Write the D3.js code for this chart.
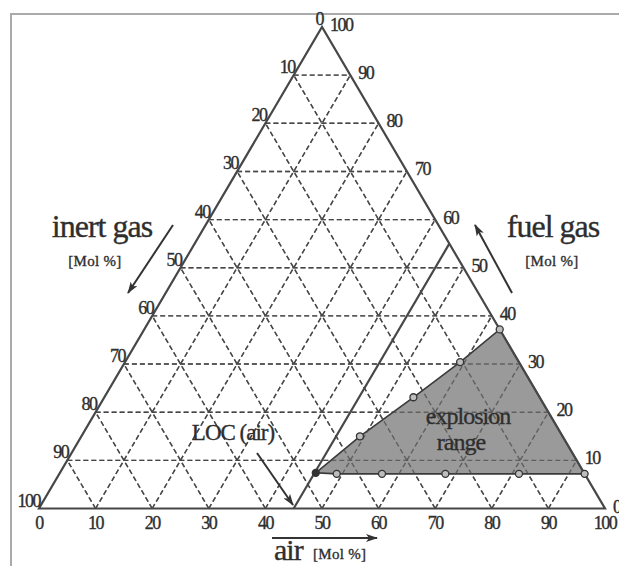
<!DOCTYPE html>
<html lang="en">
<head>
<meta charset="UTF-8">
<title>explosion triangle</title>
<script src="https://d3js.org/d3.v7.min.js"></script>
<style>
  body { margin: 0; background: #fff; }
  text { font-family: "Liberation Serif", "DejaVu Serif", serif; fill: #2e2e2e; stroke: #2e2e2e; stroke-width: 0.35px; }
  .tick { font-size: 18px; letter-spacing: -1.5px; }
</style>
</head>
<body>
<script>
// tick labels on each side (mol %)
const airTicks = [0, 10, 20, 30, 40, 50, 60, 70, 80, 90, 100];
const inertTicks = [0, 10, 20, 30, 40, 50, 60, 70, 80, 90, 100];
const fuelTicks = [0, 10, 20, 30, 40, 50, 60, 70, 80, 90, 100];
// dashed grid levels
const gridLevels = [10, 20, 30, 40, 50, 60, 70, 80, 90];

// limiting oxygen concentration line (air %)
const locAir = 45;

// explosion range boundary, upper edge (air %, fuel %)
const upperAir = [45.2, 49.2, 54.6, 59.2, 62.8];
const upperFuel = [7.4, 15.0, 23.1, 30.4, 37.2];
// lower edge (lower explosion limit)
const lowerAir = [49.0, 57.0, 68.2, 81.2, 92.8];
const lowerFuel = [7.2, 7.2, 7.2, 7.2, 7.2];

const w = 619, h = 566;
const svg = d3.select("body").append("svg").attr("width", w).attr("height", h);

// frame
svg.append("rect")
  .attr("x", 11).attr("y", 14).attr("width", 700).attr("height", 700)
  .attr("fill", "none").attr("stroke", "#aaa").attr("stroke-width", 2);

// x runs along the air axis, y along fuel
const xScale = d3.scaleLinear().domain([0, 100]).range([39, 605]);
const yScale = d3.scaleLinear().domain([0, 100]).range([508.5, 27]);

function pt(air, fuel) {
  return [xScale(air + fuel / 2), yScale(fuel)];
}

const line = d3.line();
const lineCol = "#474747";

function drawGrid(opacity) {
  const g = svg.append("g")
    .attr("fill", "none").attr("stroke", "#474747")
    .attr("stroke-width", 1.4).attr("stroke-dasharray", "5,3")
    .attr("stroke-opacity", opacity);
  gridLevels.forEach(function (v) {
    // constant fuel
    g.append("path").attr("d", line([pt(0, v), pt(100 - v, v)]));
    // constant air
    g.append("path").attr("d", line([pt(v, 0), pt(v, 100 - v)]));
    // constant inert
    g.append("path").attr("d", line([pt(100 - v, 0), pt(0, 100 - v)]));
  });
}
drawGrid(1);

// explosion range polygon
const poly = [];
upperAir.forEach((a, i) => poly.push(pt(a, upperFuel[i])));
for (let i = lowerAir.length - 1; i >= 0; i--) poly.push(pt(lowerAir[i], lowerFuel[i]));
svg.append("path")
  .attr("d", line(poly) + "Z")
  .attr("fill", "#9a9a9a")
  .attr("stroke", "#3a3a3a").attr("stroke-width", 1.6);

// grid shows through the fill
drawGrid(0.7);

// triangle
svg.append("path")
  .attr("d", line([pt(0, 0), pt(100, 0), pt(0, 100)]) + "Z")
  .attr("fill", "none").attr("stroke", lineCol).attr("stroke-width", 2.2);

// LOC line
svg.append("path")
  .attr("d", line([pt(locAir, 0), pt(locAir, 100 - locAir)]))
  .attr("fill", "none").attr("stroke", lineCol).attr("stroke-width", 2.2);

// measured points
const pts = upperAir.map((a, i) => ({ air: a, fuel: upperFuel[i] }))
  .concat(lowerAir.map((a, i) => ({ air: a, fuel: lowerFuel[i] })));
svg.selectAll("circle.pt")
  .data(pts)
  .enter()
  .append("circle")
  .attr("class", "pt")
  .attr("cx", d => pt(d.air, d.fuel)[0])
  .attr("cy", d => pt(d.air, d.fuel)[1])
  .attr("r", 3.5)
  .attr("fill", (d, i) => i === 0 ? "#333" : "#bdbdbd")
  .attr("stroke", "#333").attr("stroke-width", 1.3);

// tick labels
svg.selectAll("text.air")
  .data(airTicks).enter().append("text")
  .attr("class", "tick").attr("text-anchor", "middle")
  .attr("x", d => pt(d, 0)[0]).attr("y", 529)
  .text(d => d);

svg.selectAll("text.inert")
  .data(inertTicks).enter().append("text")
  .attr("class", "tick").attr("text-anchor", "end")
  .attr("x", d => pt(0, 100 - d)[0] + 1)
  .attr("y", d => pt(0, 100 - d)[1] - 2)
  .text(d => d);

svg.selectAll("text.fuel")
  .data(fuelTicks).enter().append("text")
  .attr("class", "tick").attr("text-anchor", "start")
  .attr("x", d => pt(100 - d, d)[0] + 8)
  .attr("y", d => pt(100 - d, d)[1] + 4)
  .text(d => d);

// arrows
const defs = svg.append("defs");
defs.append("marker")
  .attr("id", "head").attr("viewBox", "0 0 12 8")
  .attr("refX", 11).attr("refY", 4)
  .attr("markerWidth", 13).attr("markerHeight", 8)
  .attr("markerUnits", "userSpaceOnUse")
  .attr("orient", "auto")
  .append("path").attr("d", "M0,0 L12,4 L0,8 L3,4 Z").attr("fill", "#333");

function arrow(x1, y1, x2, y2) {
  svg.append("line")
    .attr("x1", x1).attr("y1", y1).attr("x2", x2).attr("y2", y2)
    .attr("stroke", "#333").attr("stroke-width", 2)
    .attr("marker-end", "url(#head)");
}
arrow(173, 225, 128, 293);
arrow(512, 293, 475, 225);
arrow(272, 538, 377, 538);
arrow(257, 453, 293, 505);

// axis titles
svg.append("text").attr("x", 102).attr("y", 237).attr("text-anchor", "middle")
  .style("font-size", "32px").style("letter-spacing", "-1px").text("inert gas");
svg.append("text").attr("x", 95).attr("y", 266).attr("text-anchor", "middle")
  .style("font-size", "15px").style("letter-spacing", "0.3px").text("[Mol %]");

svg.append("text").attr("x", 553).attr("y", 237).attr("text-anchor", "middle")
  .style("font-size", "32px").style("letter-spacing", "-1px").text("fuel gas");
svg.append("text").attr("x", 552).attr("y", 266).attr("text-anchor", "middle")
  .style("font-size", "15px").style("letter-spacing", "0.3px").text("[Mol %]");

svg.append("text").attr("x", 274).attr("y", 560)
  .style("font-size", "30px").style("letter-spacing", "-1px").text("air");
svg.append("text").attr("x", 313).attr("y", 559)
  .style("font-size", "15px").style("letter-spacing", "0.3px").text("[Mol %]");

svg.append("text").attr("x", 233).attr("y", 440).attr("text-anchor", "middle")
  .style("font-size", "23px").style("letter-spacing", "-1px").text("LOC (air)");

svg.append("text").attr("x", 468).attr("y", 424).attr("text-anchor", "middle")
  .style("font-size", "24px").style("letter-spacing", "-1px").text("explosion");
svg.append("text").attr("x", 461).attr("y", 450).attr("text-anchor", "middle")
  .style("font-size", "24px").style("letter-spacing", "-1px").text("range");
</script>
</body>
</html>
